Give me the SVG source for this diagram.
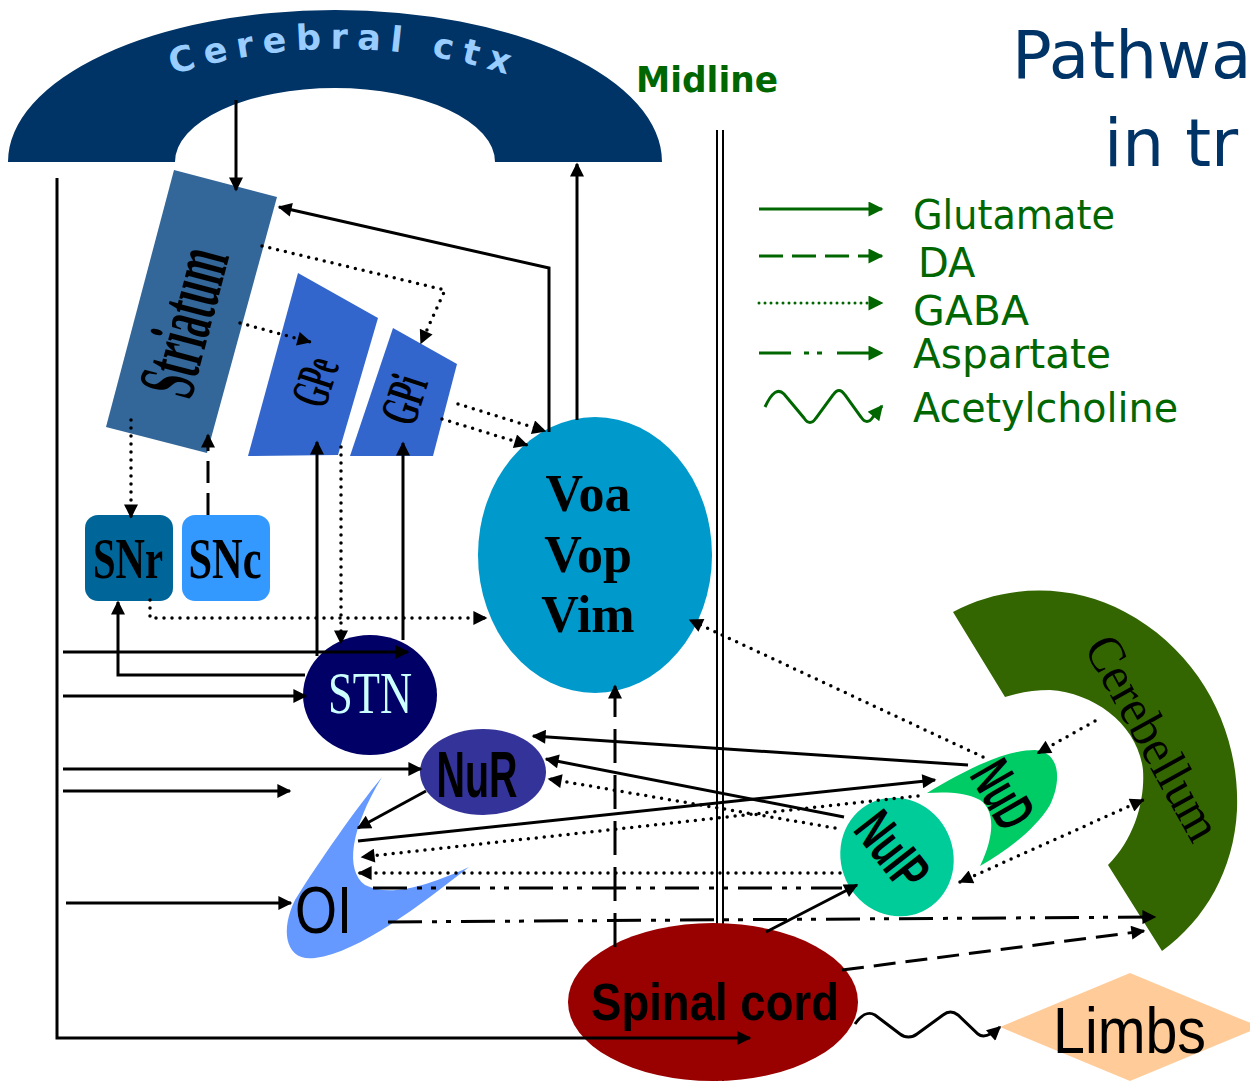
<svg xmlns="http://www.w3.org/2000/svg" width="1250" height="1081" viewBox="0 0 1250 1081">
<defs>
<style>
.s{stroke:#000;stroke-width:3;fill:none}
.d{stroke:#000;stroke-width:3.5;fill:none;stroke-dasharray:0 8;stroke-linecap:round}
.da{stroke:#000;stroke-width:3;fill:none;stroke-dasharray:22 10}
.dd{stroke:#000;stroke-width:3;fill:none;stroke-dasharray:34 10 5 9 5 10}
.ld{stroke:#000;stroke-width:3;fill:none;stroke-dasharray:34 12}
.g{stroke:#006600;stroke-width:3;fill:none}
.lt{font-family:"DejaVu Sans","Liberation Sans",sans-serif;fill:#006600;font-size:40px}
.sf{font-family:"Liberation Serif","DejaVu Serif",serif;font-weight:bold;fill:#000}
.ss{font-family:"Liberation Sans","DejaVu Sans",sans-serif;fill:#000}
</style>
<marker id="ah" viewBox="0 0 10 10" refX="9" refY="5" markerWidth="16" markerHeight="14" markerUnits="userSpaceOnUse" orient="auto-start-reverse"><path d="M0,0 L10,5 L0,10 z" fill="#000"/></marker>
<marker id="ahg" viewBox="0 0 10 10" refX="9" refY="5" markerWidth="18" markerHeight="15" markerUnits="userSpaceOnUse" orient="auto"><path d="M0,0 L10,5 L0,10 z" fill="#006600"/></marker>
<path id="ctxArc" d="M130,90 A557,557 0 0 1 550,90"/>
</defs>

<g id="title" font-family="'DejaVu Sans','Liberation Sans',sans-serif" fill="#003366" font-size="66">
<text x="1012" y="78">Pathwa</text>
<text x="1104" y="166">in tr</text>
</g>

<g id="cerebral-ctx">
<path d="M8,162 A327,152 0 0 1 662,162 L495,162 A160,74 0 0 0 175,162 Z" fill="#003366"/>
<text font-family="'DejaVu Sans','Liberation Sans',sans-serif" font-weight="bold" font-size="35" fill="#99ccff" letter-spacing="9" text-anchor="middle"><textPath href="#ctxArc" startOffset="51%">Cerebral ctx</textPath></text>
</g>

<g id="midline">
<text x="636" y="92" font-family="'DejaVu Sans','Liberation Sans',sans-serif" font-weight="bold" font-size="36" fill="#006600" textLength="142" lengthAdjust="spacingAndGlyphs">Midline</text>
<line x1="717" y1="130" x2="717" y2="1081" stroke="#000" stroke-width="2"/>
<line x1="723" y1="130" x2="723" y2="1081" stroke="#000" stroke-width="2"/>
</g>

<g id="legend">
<path class="g" d="M759,209 H882" marker-end="url(#ahg)"/>
<path class="g" d="M759,256 H882" stroke-dasharray="24 9" marker-end="url(#ahg)"/>
<path class="g" d="M759,303 H882" stroke-dasharray="0 6" stroke-linecap="round" marker-end="url(#ahg)"/>
<path class="g" d="M759,353 H882" stroke-dasharray="32 13 5 8 5 15" marker-end="url(#ahg)"/>
<path class="g" d="M765,407 C772,392 778,388 784,394 L804,418 C808,424 812,424 816,418 L833,395 C837,389 841,389 845,395 L861,417 C865,423 869,423 873,417 L882,406" marker-end="url(#ahg)"/>
<text class="lt" x="913" y="229" textLength="202" lengthAdjust="spacingAndGlyphs">Glutamate</text>
<text class="lt" x="918" y="277">DA</text>
<text class="lt" x="913" y="325" textLength="116" lengthAdjust="spacingAndGlyphs">GABA</text>
<text class="lt" x="913" y="368" textLength="198" lengthAdjust="spacingAndGlyphs">Aspartate</text>
<text class="lt" x="913" y="422" textLength="265" lengthAdjust="spacingAndGlyphs">Acetylcholine</text>
</g>

<g id="striatum">
<polygon points="174,170 277,197 207,453 106,427" fill="#336699"/>
<text class="sf" transform="translate(186,322) rotate(-75)" x="0" y="25" text-anchor="middle" font-size="82" textLength="150" lengthAdjust="spacingAndGlyphs">Striatum</text>
</g>

<g id="gpe">
<polygon points="298,273 378,318 338,455 248,456" fill="#3366cc"/>
<text class="sf" transform="translate(316,382) rotate(-72)" x="0" y="17" text-anchor="middle" font-size="54" textLength="48" lengthAdjust="spacingAndGlyphs">GPe</text>
</g>

<g id="gpi">
<polygon points="393,328 457,364 433,456 350,456" fill="#3366cc"/>
<text class="sf" transform="translate(405,400) rotate(-72)" x="0" y="17" text-anchor="middle" font-size="54" textLength="48" lengthAdjust="spacingAndGlyphs">GPi</text>
</g>

<g id="snr">
<rect x="85" y="515" width="88" height="86" rx="13" fill="#006699"/>
<text class="sf" x="128" y="578" text-anchor="middle" font-size="58" textLength="70" lengthAdjust="spacingAndGlyphs">SNr</text>
</g>

<g id="snc">
<rect x="182" y="515" width="88" height="86" rx="13" fill="#3399ff"/>
<text class="sf" x="225" y="578" text-anchor="middle" font-size="58" textLength="73" lengthAdjust="spacingAndGlyphs">SNc</text>
</g>

<g id="stn">
<ellipse cx="370" cy="695" rx="67" ry="60" fill="#000066"/>
<text x="370" y="713" text-anchor="middle" font-family="'Liberation Serif','DejaVu Serif',serif" font-size="60" fill="#ccffff" textLength="84" lengthAdjust="spacingAndGlyphs">STN</text>
</g>

<g id="thalamus">
<ellipse cx="595" cy="555" rx="117" ry="138" fill="#0099cc"/>
<text class="sf" x="588" y="511" text-anchor="middle" font-size="52">Voa</text>
<text class="sf" x="588" y="572" text-anchor="middle" font-size="52">Vop</text>
<text class="sf" x="588" y="632" text-anchor="middle" font-size="52">Vim</text>
</g>

<g id="nur">
<ellipse cx="483" cy="772" rx="63" ry="43" fill="#333399"/>
<text class="ss" x="477" y="797" text-anchor="middle" font-size="64" font-weight="bold" textLength="81" lengthAdjust="spacingAndGlyphs">NuR</text>
</g>

<g id="oi">
<path d="M382,777 C355,810 320,860 295,900 C280,930 285,962 315,958 C360,952 420,905 469,867 C430,885 390,898 365,885 C345,870 350,830 382,777 Z" fill="#6699ff"/>
<text class="ss" x="295" y="933" font-size="66" textLength="57" lengthAdjust="spacingAndGlyphs">OI</text>
</g>

<g id="cerebellum">
<path d="M953,612 C1010,582 1075,585 1125,612 C1200,652 1240,730 1237,810 C1234,870 1205,920 1162,951 L1108,865 C1135,838 1145,800 1143,770 C1138,725 1095,693 1050,690 C1033,690 1018,693 1005,697 Z" fill="#336600"/>
<text transform="translate(1153,738) rotate(61)" x="0" y="17" text-anchor="middle" font-family="'Liberation Serif','DejaVu Serif',serif" font-size="52" fill="#000" textLength="226" lengthAdjust="spacingAndGlyphs">Cerebellum</text>
</g>

<g id="nud">
<path d="M927,793 C965,770 1005,750 1035,750 C1060,752 1062,780 1050,805 C1035,830 1005,852 980,866 C995,835 995,810 980,800 C965,792 945,792 927,793 Z" fill="#00cc66"/>
<text class="ss" transform="translate(1004,794) rotate(60)" x="0" y="21" text-anchor="middle" font-size="58" font-weight="bold" textLength="68" lengthAdjust="spacingAndGlyphs">NuD</text>
</g>

<g id="nuip">
<ellipse cx="897" cy="857" rx="56" ry="60" fill="#00cc99" transform="rotate(-25 897 857)"/>
<text class="ss" transform="translate(893,850) rotate(52)" x="0" y="20" text-anchor="middle" font-size="56" font-weight="bold" textLength="82" lengthAdjust="spacingAndGlyphs">NuIP</text>
</g>

<g id="spinal-cord">
<ellipse cx="713" cy="1002" rx="145" ry="79" fill="#990000"/>
<text class="ss" x="591" y="1020" font-size="52" font-weight="bold" textLength="248" lengthAdjust="spacingAndGlyphs">Spinal cord</text>
</g>

<g id="limbs">
<polygon points="1000,1027 1130,973 1260,1027 1130,1081" fill="#ffcc99"/>
<text class="ss" x="1053" y="1053" font-size="64" textLength="153" lengthAdjust="spacingAndGlyphs">Limbs</text>
</g>

<g id="connectors">
<path class="s" d="M236,100 V190" marker-end="url(#ah)"/>
<path class="s" d="M549,432 V268 L279,207" marker-end="url(#ah)"/>
<path class="s" d="M577,420 V164" marker-end="url(#ah)"/>
<path class="s" d="M57,178 V1038 H750" marker-end="url(#ah)"/>
<path class="s" d="M63,652 H408" marker-end="url(#ah)"/>
<path class="s" d="M305,675 H118 V602" marker-end="url(#ah)"/>
<path class="s" d="M63,696 H306" marker-end="url(#ah)"/>
<path class="s" d="M63,769 H421" marker-end="url(#ah)"/>
<path class="s" d="M63,791 H290" marker-end="url(#ah)"/>
<path class="s" d="M66,903 H291" marker-end="url(#ah)"/>
<path class="s" d="M317,656 V442" marker-end="url(#ah)"/>
<path class="s" d="M403,640 V443" marker-end="url(#ah)"/>
<path class="s" d="M426,791 L358,828" marker-end="url(#ah)"/>
<path class="s" d="M968,765 L533,736" marker-end="url(#ah)"/>
<path class="s" d="M844,817 L546,759" marker-end="url(#ah)"/>
<path class="s" d="M358,841 L935,780" marker-end="url(#ah)"/>
<path class="s" d="M766,932 L857,885" marker-end="url(#ah)"/>

<path class="d" d="M262,246 L445,290 L421,343" marker-end="url(#ah)"/>
<path class="d" d="M240,323 L310,342" marker-end="url(#ah)"/>
<path class="d" d="M131,420 V517" marker-end="url(#ah)"/>
<path class="d" d="M341,447 V643" marker-end="url(#ah)"/>
<path class="d" d="M150,600 V618 H486" marker-end="url(#ah)"/>
<path class="d" d="M458,404 L545,431" marker-end="url(#ah)"/>
<path class="d" d="M442,419 L527,445" marker-end="url(#ah)"/>
<path class="d" d="M983,757 L690,620" marker-end="url(#ah)"/>
<path class="d" d="M1095,721 L1038,753" marker-end="url(#ah)"/>
<path class="d" d="M960,882 L1143,800" marker-start="url(#ah)" marker-end="url(#ah)"/>
<path class="d" d="M835,828 L549,779" marker-end="url(#ah)"/>
<path class="d" d="M918,796 L362,857" marker-end="url(#ah)"/>
<path class="d" d="M840,873 L359,873" marker-end="url(#ah)"/>

<path class="da" d="M208,515 V435" marker-end="url(#ah)"/>
<path class="da" d="M842,970 L1144,931" marker-end="url(#ah)"/>
<path class="ld" d="M615,947 V686" marker-end="url(#ah)"/>

<path class="dd" d="M373,888 H842"/>
<path class="dd" d="M388,922 L1155,917" marker-end="url(#ah)"/>

<path class="s" d="M855,1024 C862,1014 868,1011 875,1015 L900,1034 C905,1038 912,1038 917,1034 L943,1015 C948,1011 953,1011 958,1015 L978,1034 C983,1038 990,1036 1000,1027" marker-end="url(#ah)"/>
</g>
</svg>
